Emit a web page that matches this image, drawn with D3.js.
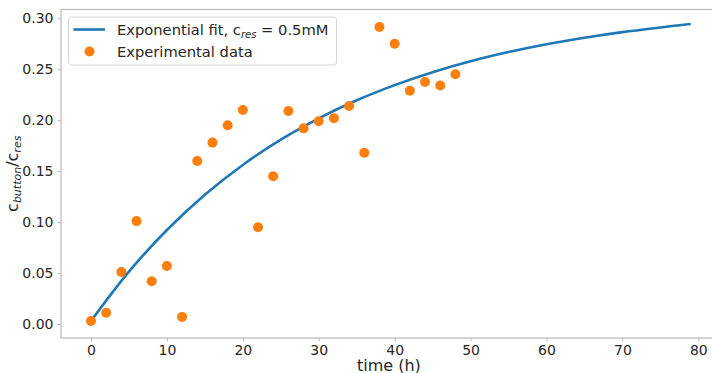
<!DOCTYPE html>
<html><head><meta charset="utf-8">
<script src="https://cdn.jsdelivr.net/npm/d3@7"></script>
<style>
body{margin:0;background:#fff;}
text{font-family:"DejaVu Sans",sans-serif;fill:#262626;}
</style></head>
<body><svg id="c" width="712" height="373"></svg>
<script>
// Experimental data
const timeH = [0,2,4,6,8,10,12,14,16,18,20,22,24,26,28,30,32,34,36,38,40,42,44,46,48];
const ratio = [0.003,0.011,0.051,0.101,0.042,0.057,0.007,0.160,0.178,0.195,0.210,0.095,0.145,0.209,0.192,0.199,0.202,0.214,0.168,0.2915,0.275,0.229,0.2375,0.234,0.245];
// Exponential fit curve
const fitT = [0,5,10,15,20,25,30,35,40,45,50,55,60,65,70,75,79];
const fitY = [0.003,0.0514,0.0923,0.1269,0.1561,0.1809,0.2018,0.2195,0.2344,0.2471,0.2578,0.2668,0.2745,0.2809,0.2864,0.2910,0.2944];
const xTicks = [0,10,20,30,40,50,60,70,80];
const yTicks = [0.00,0.05,0.10,0.15,0.20,0.25,0.30];

const svg = d3.select("#c");
const L=61, R=720.7, T=9.5, B=338;
const x = d3.scaleLinear().domain([-3.95,82.95]).range([L,R]);
const y = d3.scaleLinear().domain([-0.0137,0.3086]).range([B,T]);
const spine = "#b8b8b8";

// fit line
svg.append("path")
  .datum(fitT.map((t,i)=>[t,fitY[i]]))
  .attr("fill","none").attr("stroke","#1f77b4").attr("stroke-width",2.6)
  .attr("d", d3.line().x(d=>x(d[0])).y(d=>y(d[1])).curve(d3.curveCatmullRom));

// points
svg.append("g").selectAll("circle").data(timeH).join("circle")
  .attr("cx",(d)=>x(d)).attr("cy",(d,i)=>y(ratio[i])).attr("r",5)
  .attr("fill","#ff7f0e");

// spines
svg.append("rect").attr("x",L).attr("y",T).attr("width",R-L).attr("height",B-T)
  .attr("fill","none").attr("stroke",spine).attr("stroke-width",1.2);

// x axis
const xa = svg.append("g").attr("transform",`translate(0,${B})`)
  .call(d3.axisBottom(x).tickValues(xTicks).tickSize(3.5).tickPadding(3.5).tickFormat(d3.format("d")));
xa.select(".domain").remove();
xa.selectAll("line").attr("stroke",spine);
xa.selectAll("text").attr("font-size",14).attr("fill","#262626").style("font-family","DejaVu Sans");

// y axis
const ya = svg.append("g").attr("transform",`translate(${L},0)`)
  .call(d3.axisLeft(y).tickValues(yTicks).tickSize(3.5).tickPadding(4).tickFormat(d3.format(".2f")));
ya.select(".domain").remove();
ya.selectAll("line").attr("stroke",spine);
ya.selectAll("text").attr("font-size",14).attr("fill","#262626").style("font-family","DejaVu Sans");

// x label
svg.append("text").attr("x",(L+R)/2-2).attr("y",370.5).attr("text-anchor","middle")
  .attr("font-size",16).text("time (h)");

// y label
const yl = svg.append("text").attr("transform",`translate(17.5,${(T+B)/2}) rotate(-90)`)
  .attr("text-anchor","middle").attr("font-size",16);
yl.append("tspan").text("c");
yl.append("tspan").attr("font-size",11).attr("font-style","italic").attr("dy",3.5).text("button");
yl.append("tspan").attr("dy",-3.5).text("/c");
yl.append("tspan").attr("font-size",11).attr("font-style","italic").attr("dy",3.5).text("res");

// legend
const lg = svg.append("g");
lg.append("rect").attr("x",68.5).attr("y",17).attr("width",268).attr("height",48).attr("rx",3)
  .attr("fill","#fff").attr("fill-opacity",0.8).attr("stroke","#d6d6d6");
lg.append("line").attr("x1",73.5).attr("x2",105).attr("y1",29.5).attr("y2",29.5)
  .attr("stroke","#1f77b4").attr("stroke-width",2.6);
lg.append("circle").attr("cx",89.5).attr("cy",51.5).attr("r",5).attr("fill","#ff7f0e");
const t1 = lg.append("text").attr("x",117).attr("y",35).attr("font-size",14.7);
t1.append("tspan").text("Exponential fit, c");
t1.append("tspan").attr("font-size",10).attr("font-style","italic").attr("dy",3).text("res");
t1.append("tspan").attr("dy",-3).text(" = 0.5mM");
lg.append("text").attr("x",117).attr("y",57).attr("font-size",14.7).text("Experimental data");
</script></body></html>
